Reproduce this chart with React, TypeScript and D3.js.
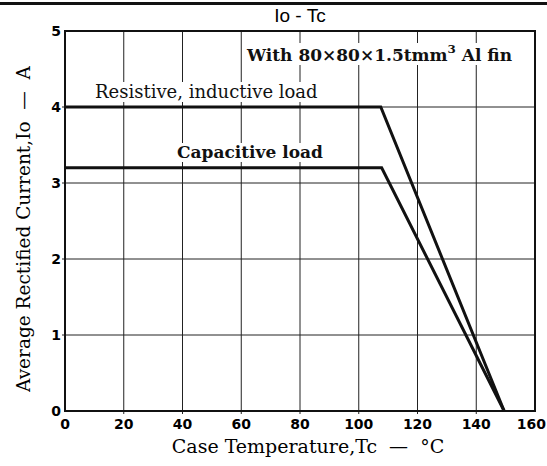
import React, { useRef, useEffect } from 'react';
import * as d3 from 'd3';

const xTicks = [0, 20, 40, 60, 80, 100, 120, 140, 160];
const yTicks = [0, 1, 2, 3, 4, 5];
const resistive = [
  { t: 0, io: 4.0 },
  { t: 107.5, io: 4.0 },
  { t: 149.5, io: 0 },
];
const capacitive = [
  { t: 0, io: 3.2 },
  { t: 107.8, io: 3.2 },
  { t: 149.5, io: 0 },
];

export default function App() {
  const svgRef = useRef<SVGSVGElement>(null);

  useEffect(() => {
    document.body.style.margin = '0';
    if (!svgRef.current) return;
    const width = 547;
    const height = 466;
    const margin = { top: 31, right: 12, bottom: 55, left: 65 };
    const serif = '"DejaVu Serif", "Liberation Serif", serif';
    const sans = '"DejaVu Sans", sans-serif';
    const sp = '\u00a0';

    const svg = d3.select(svgRef.current)
      .attr('width', width)
      .attr('height', height)
      .attr('viewBox', `0 0 ${width} ${height}`);
    svg.selectAll('*').remove();

    svg.append('rect').attr('width', width).attr('height', height).attr('fill', 'white');

    const x = d3.scaleLinear().domain([0, 160]).range([margin.left, width - margin.right]);
    const y = d3.scaleLinear().domain([0, 5]).range([height - margin.bottom, margin.top]);

    // top rule
    svg.append('line')
      .attr('x1', 0).attr('x2', width).attr('y1', 3.5).attr('y2', 3.5)
      .attr('stroke', '#111').attr('stroke-width', 3);

    // title
    svg.append('text')
      .attr('x', 300).attr('y', 22)
      .attr('text-anchor', 'middle')
      .attr('font-family', '"Liberation Sans", Arial, sans-serif')
      .attr('font-size', 19)
      .text(`Io${sp}-${sp}Tc`);

    // grid
    const grid = svg.append('g').attr('stroke', '#222').attr('stroke-width', 1);
    xTicks.slice(1, -1).forEach(t => {
      grid.append('line')
        .attr('x1', x(t)).attr('x2', x(t))
        .attr('y1', y(5)).attr('y2', y(0) + 3);
    });
    yTicks.slice(1, -1).forEach(v => {
      grid.append('line')
        .attr('x1', x(0) - 3).attr('x2', x(160))
        .attr('y1', y(v)).attr('y2', y(v));
    });

    // label backgrounds + labels
    const addLabel = (tx: number, ty: number, str: string, size: number, weight: string, sup?: string) => {
      const g = svg.append('g');
      const bg = g.append('rect').attr('fill', 'white');
      const txt = g.append('text')
        .attr('x', tx).attr('y', ty)
        .attr('font-family', serif)
        .attr('font-size', size)
        .attr('font-weight', weight)
        .attr('fill', '#111');
      if (sup) {
        const parts = str.split('|');
        txt.append('tspan').text(parts[0]);
        txt.append('tspan').attr('dy', -8).attr('font-size', size * 0.7).text(sup);
        txt.append('tspan').attr('dy', 8).text(parts[1]);
      } else {
        txt.text(str);
      }
      const bb = (txt.node() as SVGTextElement).getBBox();
      bg.attr('x', bb.x - 2).attr('y', bb.y + 1).attr('width', bb.width + 4).attr('height', bb.height - 1);
    };

    addLabel(95, 98, 'Resistive, inductive load', 18, 'normal');
    addLabel(177, 158, 'Capacitive load', 17, 'bold');
    addLabel(247, 61, 'With 80×80×1.5tmm| Al fin', 17, 'bold', '3');

    // frame
    svg.append('rect')
      .attr('x', x(0)).attr('y', y(5))
      .attr('width', x(160) - x(0)).attr('height', y(0) - y(5))
      .attr('fill', 'none').attr('stroke', '#111').attr('stroke-width', 2);

    // curves
    const line = d3.line<{ t: number; io: number }>().x(d => x(d.t)).y(d => y(d.io));
    [resistive, capacitive].forEach(series => {
      svg.append('path')
        .datum(series)
        .attr('d', line)
        .attr('fill', 'none')
        .attr('stroke', '#111')
        .attr('stroke-width', 3)
        .attr('stroke-linejoin', 'miter');
    });

    // tick labels
    svg.append('g').selectAll('text').data(xTicks).join('text')
      .attr('x', (d, i) => (i === xTicks.length - 1 ? width - 1 : x(d)))
      .attr('y', y(0) + 18)
      .attr('text-anchor', (d, i) => (i === xTicks.length - 1 ? 'end' : 'middle'))
      .attr('font-family', sans).attr('font-weight', 'bold').attr('font-size', 14)
      .text(d => d);
    svg.append('g').selectAll('text').data(yTicks).join('text')
      .attr('x', x(0) - 4).attr('y', d => y(d) + 5)
      .attr('text-anchor', 'end')
      .attr('font-family', sans).attr('font-weight', 'bold').attr('font-size', 14)
      .text(d => d);

    // axis titles
    svg.append('text')
      .attr('x', 308).attr('y', 453)
      .attr('text-anchor', 'middle')
      .attr('font-family', serif).attr('font-size', 19)
      .text(`Case Temperature,Tc${sp}${sp}—${sp}${sp}°C`);
    svg.append('text')
      .attr('transform', `translate(30,${(y(0) + y(5)) / 2 + 8}) rotate(-90)`)
      .attr('text-anchor', 'middle')
      .attr('font-family', serif).attr('font-size', 18.5)
      .text(`Average Rectified Current,Io${sp}${sp}—${sp}${sp}A`);
  }, []);

  return <svg ref={svgRef} style={{ display: 'block' }} />;
}
